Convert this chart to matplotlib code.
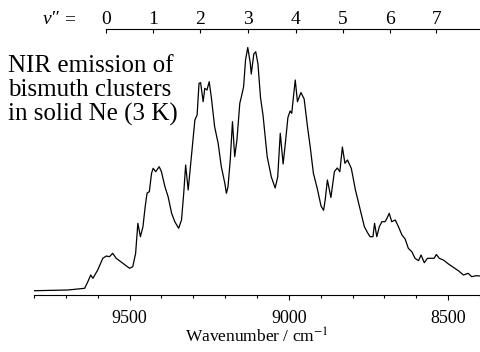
import matplotlib
matplotlib.use("Agg")
import matplotlib.pyplot as plt
from matplotlib.ticker import MultipleLocator

plt.rcParams['font.family'] = ['Liberation Serif', 'DejaVu Serif']
plt.rcParams['mathtext.fontset'] = 'stix'

# spectrum (wavenumber in cm^-1, intensity in arb. units)
wavenumber = [9798, 9694, 9641, 9631, 9622, 9615, 9600, 9584, 9573, 9563, 9553, 9542,
              9521, 9500, 9490, 9481, 9474, 9466, 9458, 9451, 9445, 9438, 9431, 9426,
              9418, 9407, 9400, 9389, 9379, 9368, 9358, 9346, 9337, 9330, 9324, 9316,
              9308, 9300, 9295, 9288, 9282, 9277, 9269, 9264, 9257, 9250, 9243, 9233,
              9222, 9212, 9201, 9196, 9191, 9184, 9177, 9170, 9163, 9154, 9149, 9142,
              9136, 9129, 9121, 9118, 9110, 9104, 9097, 9089, 9081, 9068, 9055, 9043,
              9035, 9027, 9018, 9010, 9003, 8996, 8991, 8980, 8973, 8962, 8952, 8941,
              8933, 8923, 8911, 8899, 8891, 8886, 8879, 8868, 8857, 8848, 8840, 8832,
              8824, 8816, 8804, 8791, 8778, 8763, 8753, 8745, 8736, 8731, 8724, 8716,
              8708, 8698, 8692, 8685, 8677, 8666, 8656, 8645, 8635, 8625, 8614, 8604,
              8593, 8585, 8575, 8565, 8554, 8544, 8537, 8528, 8515, 8499, 8484, 8468,
              8452, 8437, 8426, 8412, 8400]
intensity = [0.3, 1, 2.7, 9.3, 16, 12.7, 21, 32.7, 35, 34.3, 37.7, 32.7,
             27.7, 22.7, 24.3, 37.7, 67.7, 54.3, 64.3, 84.3, 98, 99.3, 117.7, 122.7,
             119.3, 124.3, 119.3, 104.3, 94.3, 77.7, 69.3, 62.7, 71, 97.7, 126, 101,
             127.7, 154.3, 171, 176, 207.7, 208.3, 189.3, 202.7, 201, 209.3, 192.7, 164.3,
             147.7, 124.3, 107.7, 97.7, 104.3, 131, 169.3, 134.3, 151, 187.7, 194.3, 204.3,
             231, 243.5, 227.7, 217, 237, 239.3, 227, 193.5, 175.5, 134.3, 114, 103,
             114, 157.7, 127, 151, 173.5, 180, 177.7, 211, 189.3, 198.5, 192, 163,
             144.3, 117.7, 102.7, 85, 80.7, 91, 111, 93.5, 119.5, 123, 119.3, 144,
             127.7, 131, 122.7, 101, 84, 64.3, 58.3, 54.3, 54.3, 67.7, 54.3, 64.3,
             69.3, 69.3, 72.7, 77.7, 69.3, 71, 64.3, 56, 52, 42.7, 39.3, 32.7,
             30.3, 36, 28.3, 32.7, 32.7, 32.7, 36.5, 32.7, 31, 27, 23.7, 20.3,
             16, 17.7, 14.3, 15.3, 15]

# vibrational progression v'' markers on the top axis
v_positions = [9574, 9427, 9280, 9129, 8979, 8831, 8681, 8537]
v_labels = ["0", "1", "2", "3", "4", "5", "6", "7"]

fig = plt.figure(figsize=(4.8, 3.52), dpi=100)
ax = fig.add_axes([34 / 480, 1 - 295 / 352, 1 - 34 / 480, (295 - 29) / 352])

ax.plot(wavenumber, intensity, color="black", linewidth=0.9)
ax.set_xlim(9800, 8400)
ax.set_ylim(-4, 262)

for s in ["left", "right", "top"]:
    ax.spines[s].set_visible(False)
ax.spines["bottom"].set_linewidth(0.8)
ax.set_yticks([])
ax.xaxis.set_major_locator(MultipleLocator(500))
ax.xaxis.set_minor_locator(MultipleLocator(100))
ax.tick_params(axis="x", which="major", direction="out", length=3.5, width=0.8,
               labelsize=13, pad=7)
ax.tick_params(axis="x", which="minor", direction="out", length=2.5, width=0.8)
ax.set_xlabel("Wavenumber / cm$^{\\mathrm{-1}}$", fontsize=12.5, labelpad=1)

top = ax.twiny()
top.set_xlim(ax.get_xlim())
for s in ["left", "right", "bottom"]:
    top.spines[s].set_visible(False)
top.spines["top"].set_bounds(v_positions[0], 8400)
top.spines["top"].set_linewidth(0.8)
top.set_xticks(v_positions)
top.set_xticklabels(v_labels)
top.tick_params(axis="x", direction="in", length=3, width=0.8, labelsize=14, pad=1)

fig.text(43 / 480, 1 - 20 / 352, "v\u2033", fontsize=14, style="italic", va="center")
fig.text(64 / 480, 1 - 20 / 352, "=", fontsize=14, va="center")

fig.text(8 / 480, 1 - 55 / 352, "NIR emission of\nbismuth clusters\nin solid Ne (3 K)",
         fontsize=18, va="top", ha="left", linespacing=1.1)

fig.savefig("out.png", dpi=100)
